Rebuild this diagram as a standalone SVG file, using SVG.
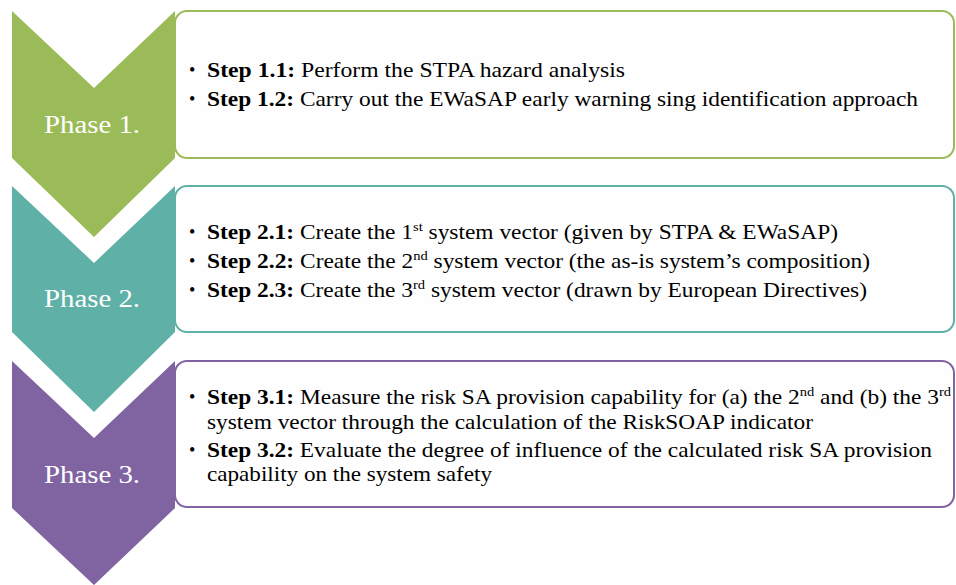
<svg xmlns="http://www.w3.org/2000/svg" width="956" height="585" viewBox="0 0 956 585">
<style>
.box{fill:#FEFEFE;stroke-width:2}
.phase{font-family:"Liberation Serif","Tinos","Times New Roman","DejaVu Serif",serif;font-size:26px;fill:#FFFFFF}
.step{font-family:"Liberation Serif","Tinos","Times New Roman","DejaVu Serif",serif;font-size:21px;fill:#000000}
.bul{font-family:"Liberation Serif","DejaVu Serif",serif;font-size:18px;fill:#000000}
.b{font-weight:bold}
.sup{font-size:13px}
</style>
<rect width="956" height="585" fill="#FFFFFF"/>
<g id="connectors"></g>
<g id="box1">
<rect class="box" x="175" y="11" width="779" height="147" rx="12" stroke="#9BBB59"/>
<text class="bul" x="189" y="76">•</text>
<text class="step" x="207" y="77" textLength="418" lengthAdjust="spacingAndGlyphs"><tspan class="b">Step 1.1:</tspan> Perform the STPA hazard analysis</text>
<text class="bul" x="189" y="105">•</text>
<text class="step" x="207" y="106" textLength="711" lengthAdjust="spacingAndGlyphs"><tspan class="b">Step 1.2:</tspan> Carry out the EWaSAP early warning sing identification approach</text>
</g>
<g id="box2">
<rect class="box" x="175" y="186" width="779" height="146" rx="12" stroke="#5FB0A6"/>
<text class="bul" x="189" y="238">•</text>
<text class="step" x="207" y="239" textLength="631" lengthAdjust="spacingAndGlyphs"><tspan class="b">Step 2.1:</tspan> Create the 1<tspan class="sup" dy="-8">st</tspan><tspan dy="8"> system vector (given by STPA &amp; EWaSAP)</tspan></text>
<text class="bul" x="189" y="267">•</text>
<text class="step" x="207" y="268" textLength="663" lengthAdjust="spacingAndGlyphs"><tspan class="b">Step 2.2:</tspan> Create the 2<tspan class="sup" dy="-8">nd</tspan><tspan dy="8"> system vector (the as-is system’s composition)</tspan></text>
<text class="bul" x="189" y="296">•</text>
<text class="step" x="207" y="297" textLength="660" lengthAdjust="spacingAndGlyphs"><tspan class="b">Step 2.3:</tspan> Create the 3<tspan class="sup" dy="-8">rd</tspan><tspan dy="8"> system vector (drawn by European Directives)</tspan></text>
</g>
<g id="box3">
<rect class="box" x="175" y="361" width="779" height="146" rx="12" stroke="#8064A2"/>
<text class="bul" x="189" y="403">•</text>
<text class="step" x="207" y="404" textLength="744" lengthAdjust="spacingAndGlyphs"><tspan class="b">Step 3.1:</tspan> Measure the risk SA provision capability for (a) the 2<tspan class="sup" dy="-8">nd</tspan><tspan dy="8"> and (b) the 3</tspan><tspan class="sup" dy="-8">rd</tspan></text>
<text class="step" x="207" y="429" textLength="606" lengthAdjust="spacingAndGlyphs">system vector through the calculation of the RiskSOAP indicator</text>
<text class="bul" x="189" y="456">•</text>
<text class="step" x="207" y="457" textLength="725" lengthAdjust="spacingAndGlyphs"><tspan class="b">Step 3.2:</tspan> Evaluate the degree of influence of the calculated risk SA provision</text>
<text class="step" x="207" y="481" textLength="285" lengthAdjust="spacingAndGlyphs">capability on the system safety</text>
</g>
<g id="phase1">
<path d="M12,11 L94,88 L175,11 L175,158 L94,237 L12,158 Z" fill="#9BBB59"/>
<text class="phase" x="44" y="133" textLength="96" lengthAdjust="spacingAndGlyphs">Phase 1.</text>
</g>
<g id="phase2">
<path d="M12,186 L94,263 L175,186 L175,332 L94,412 L12,332 Z" fill="#5FB0A6"/>
<text class="phase" x="44" y="307" textLength="96" lengthAdjust="spacingAndGlyphs">Phase 2.</text>
</g>
<g id="phase3">
<path d="M12,361 L94,438 L175,361 L175,508 L94,585 L12,508 Z" fill="#8064A2"/>
<text class="phase" x="44" y="483" textLength="96" lengthAdjust="spacingAndGlyphs">Phase 3.</text>
</g>
</svg>
